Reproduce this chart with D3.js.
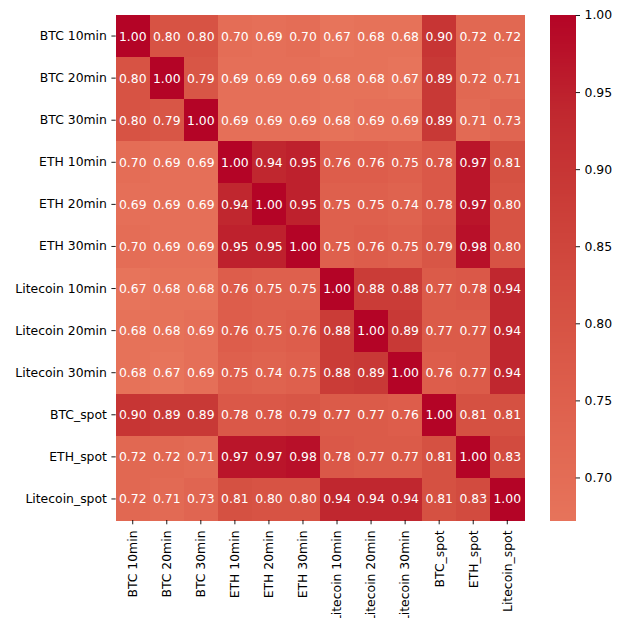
<!DOCTYPE html>
<html><head><meta charset="utf-8">
<script src="https://cdn.jsdelivr.net/npm/d3@7"></script>
<style>body{margin:0;background:#fff}svg{display:block}text{font-family:"DejaVu Sans",sans-serif}</style>
</head><body>
<script>
const labels = ["BTC 10min","BTC 20min","BTC 30min","ETH 10min","ETH 20min","ETH 30min","Litecoin 10min","Litecoin 20min","Litecoin 30min","BTC_spot","ETH_spot","Litecoin_spot"];
const values = [
 [1.00,0.80,0.80,0.70,0.69,0.70,0.67,0.68,0.68,0.90,0.72,0.72],
 [0.80,1.00,0.79,0.69,0.69,0.69,0.68,0.68,0.67,0.89,0.72,0.71],
 [0.80,0.79,1.00,0.69,0.69,0.69,0.68,0.69,0.69,0.89,0.71,0.73],
 [0.70,0.69,0.69,1.00,0.94,0.95,0.76,0.76,0.75,0.78,0.97,0.81],
 [0.69,0.69,0.69,0.94,1.00,0.95,0.75,0.75,0.74,0.78,0.97,0.80],
 [0.70,0.69,0.69,0.95,0.95,1.00,0.75,0.76,0.75,0.79,0.98,0.80],
 [0.67,0.68,0.68,0.76,0.75,0.75,1.00,0.88,0.88,0.77,0.78,0.94],
 [0.68,0.68,0.69,0.76,0.75,0.76,0.88,1.00,0.89,0.77,0.77,0.94],
 [0.68,0.67,0.69,0.75,0.74,0.75,0.88,0.89,1.00,0.76,0.77,0.94],
 [0.90,0.89,0.89,0.78,0.78,0.79,0.77,0.77,0.76,1.00,0.81,0.81],
 [0.72,0.72,0.71,0.97,0.97,0.98,0.78,0.77,0.77,0.81,1.00,0.83],
 [0.72,0.71,0.73,0.81,0.80,0.80,0.94,0.94,0.94,0.81,0.83,1.00]
];
const cbTicks = [0.70,0.75,0.80,0.85,0.90,0.95,1.00];
const vmin = 0.6724, vmax = 1.0;

// coolwarm (Moreland) upper half
const cwStops = [0.5,0.53125,0.5625,0.59375,0.625,0.65625,0.6875,0.71875,0.75,0.78125,0.8125,0.84375,0.875,0.90625,0.9375,0.96875,1.0];
const cwColors = ["rgb(221,221,221)","rgb(229,216,209)","rgb(236,211,197)","rgb(241,204,185)","rgb(245,196,173)","rgb(247,187,160)","rgb(247,177,148)","rgb(247,166,135)","rgb(244,154,123)","rgb(241,141,111)","rgb(236,127,99)","rgb(229,112,88)","rgb(222,96,77)","rgb(213,80,66)","rgb(203,62,56)","rgb(192,40,47)","rgb(180,4,38)"];
const cw = d3.scaleLinear().domain(cwStops).range(cwColors).interpolate(d3.interpolateRgb).clamp(true);
const color = v => cw((v + 1) / 2);

const W = 621, H = 618;
const svg = d3.select("body").append("svg").attr("width", W).attr("height", H);
svg.append("rect").attr("width", W).attr("height", H).attr("fill", "#fff");

const pLeft = 115.7, pRight = 524.3, pTop = 15, pBottom = 520;
const x = d3.scaleBand().domain(labels).range([pLeft, pRight]);
const y = d3.scaleBand().domain(labels).range([pTop, pBottom]);
const fs = "12.4px";

const cells = [];
values.forEach((row, i) => row.forEach((v, j) => cells.push({r: labels[i], c: labels[j], v})));

svg.append("g").attr("shape-rendering", "crispEdges").selectAll("rect").data(cells).join("rect")
  .attr("x", d => x(d.c)).attr("y", d => y(d.r))
  .attr("width", x.bandwidth() + 0.5).attr("height", y.bandwidth() + 0.5)
  .attr("fill", d => color(d.v));

svg.append("g").selectAll("text").data(cells).join("text")
  .attr("x", d => x(d.c) + x.bandwidth() / 2).attr("y", d => y(d.r) + y.bandwidth() / 2)
  .attr("dy", "0.36em").attr("text-anchor", "middle").attr("fill", "#fff")
  .style("font-size", fs).text(d => d.v.toFixed(2));

// Y axis
const yAxis = svg.append("g").attr("transform", `translate(${pLeft},0)`)
  .call(d3.axisLeft(y).tickSize(4.3).tickPadding(4.5));
yAxis.select(".domain").remove();
yAxis.selectAll("line").attr("stroke", "#000").attr("stroke-width", 0.9);
yAxis.selectAll("text").attr("fill", "#000").style("font-size", fs).style("font-family", "DejaVu Sans");

// X axis
const xAxis = svg.append("g").attr("transform", `translate(0,${pBottom})`)
  .call(d3.axisBottom(x).tickSize(4.3).tickPadding(4.5));
xAxis.select(".domain").remove();
xAxis.selectAll("line").attr("stroke", "#000").attr("stroke-width", 0.9);
xAxis.selectAll("text").attr("fill", "#000").style("font-size", fs).style("font-family", "DejaVu Sans")
  .attr("transform", "rotate(-90)").attr("text-anchor", "end")
  .attr("x", -10.5).attr("y", 0).attr("dy", "0.35em");

// Colorbar
const cbX = 550, cbW = 25.7;
const cy = d3.scaleLinear().domain([vmin, vmax]).range([pBottom, pTop]);
const nSteps = 256;
const step = (vmax - vmin) / nSteps;
const steps = d3.range(nSteps).map(k => vmin + step * k);
svg.append("g").attr("shape-rendering", "crispEdges").selectAll("rect").data(steps).join("rect")
  .attr("x", cbX).attr("width", cbW)
  .attr("y", d => cy(d + step))
  .attr("height", d => cy(d) - cy(d + step) + 1)
  .attr("fill", d => color(d + step / 2));
const cAxis = svg.append("g").attr("transform", `translate(${cbX + cbW},0)`)
  .call(d3.axisRight(cy).tickValues(cbTicks).tickFormat(d3.format(".2f")).tickSize(4.3).tickPadding(4.5));
cAxis.select(".domain").remove();
cAxis.selectAll("line").attr("stroke", "#000").attr("stroke-width", 0.9);
cAxis.selectAll("text").attr("fill", "#000").style("font-size", fs).style("font-family", "DejaVu Sans");
</script>
</body></html>
